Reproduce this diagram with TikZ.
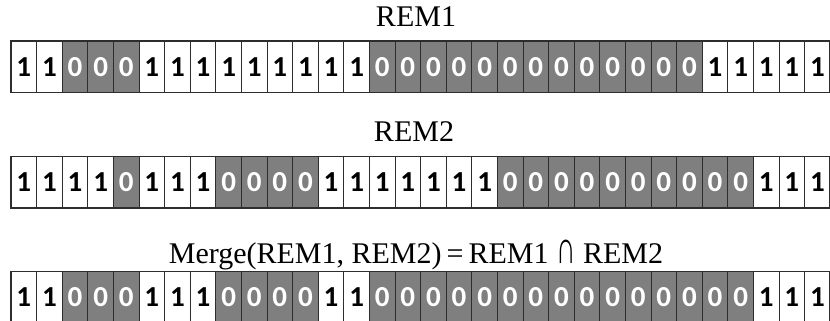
\documentclass[tikz,border=0pt]{standalone}
\usepackage{fontspec}
\setmainfont{Liberation Serif}
\newfontfamily\digitfont{Carlito}
\definecolor{cellgray}{RGB}{127,127,127}
\definecolor{lineclr}{RGB}{45,45,45}
\tikzset{
  cellone/.style={draw=lineclr, line width=0.9pt, fill=white, text=black,
    minimum width=25.6pt, minimum height=51.7pt, inner sep=0pt, outer sep=0pt,
    anchor=north west, font=\digitfont\bfseries\fontsize{29}{29}\selectfont},
  cellzero/.style={cellone, fill=cellgray, text=white},
  rowframe/.style={draw=lineclr, line width=1.5pt},
  titletext/.style={anchor=base, font=\fontsize{30}{30}\selectfont, inner sep=0pt},
}
\newcommand\bitrow[3]{%
  \foreach \b [count=\i from 0] in {#3} {%
    \ifnum\b=1
      \node[cellone] (#1c\i) at ({11+25.6*\i},-#2) {1};
    \else
      \node[cellzero] (#1c\i) at ({11+25.6*\i},-#2) {0};
    \fi
  }%
  \draw[rowframe] (#1c0.north west) rectangle (#1c31.south east);
}
\newcommand\tallcap{\scalebox{0.9}[1.55]{∩}}
\begin{document}
\begin{tikzpicture}[x=1pt,y=1pt]
\useasboundingbox (0,0) rectangle (830,-321);
\clip (0,0) rectangle (830,-321);
\node[titletext] (t1) at (416,-27) {REM1};
\bitrow{ra}{41}{1,1,0,0,0,1,1,1,1,1,1,1,1,1,0,0,0,0,0,0,0,0,0,0,0,0,0,1,1,1,1,1}
\node[titletext] (t2) at (414,-141.5) {REM2};
\bitrow{rb}{156.3}{1,1,1,1,0,1,1,1,0,0,0,0,1,1,1,1,1,1,1,0,0,0,0,0,0,0,0,0,0,1,1,1}
\node[titletext] (t3) at (416,-263.5) {Merge(REM1, REM2)\,=\,REM1 \tallcap{} REM2};
\bitrow{rc}{271.6}{1,1,0,0,0,1,1,1,0,0,0,0,1,1,0,0,0,0,0,0,0,0,0,0,0,0,0,0,0,1,1,1}
\end{tikzpicture}
\end{document}
